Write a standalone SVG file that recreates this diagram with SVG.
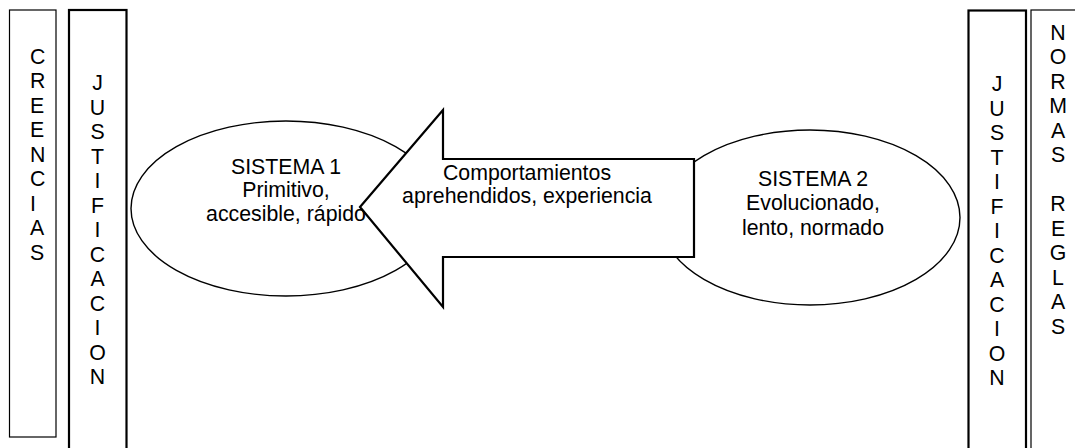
<svg xmlns="http://www.w3.org/2000/svg" width="1075" height="448" viewBox="0 0 1075 448">
<style>
text{font-family:"Liberation Sans",Arial,sans-serif;font-size:21.3px;fill:#000}
.c{text-anchor:middle}
.thin{fill:#fff;stroke:#000;stroke-width:1.2}
.thick{fill:#fff;stroke:#000;stroke-width:2.2}
.ell{fill:#fff;stroke:#000;stroke-width:1.4}
</style>
<rect width="1075" height="448" fill="#fff"/>
<g id="creencias">
<rect class="thin" x="9.5" y="10" width="46.5" height="427"/>
<text x="30"><tspan x="30" y="63.5">C</tspan><tspan x="30" dy="24.5">R</tspan><tspan x="30" dy="24.5">E</tspan><tspan x="30" dy="24.5">E</tspan><tspan x="30" dy="24.5">N</tspan><tspan x="30" dy="24.5">C</tspan><tspan x="30" dy="24.5">I</tspan><tspan x="30" dy="24.5">A</tspan><tspan x="30" dy="24.5">S</tspan></text>
</g>
<g id="justificacion-izq">
<rect class="thick" x="69" y="10" width="57.5" height="450"/>
<text class="c"><tspan x="97.5" y="90">J</tspan><tspan x="97.5" dy="24.5">U</tspan><tspan x="97.5" dy="24.5">S</tspan><tspan x="97.5" dy="24.5">T</tspan><tspan x="97.5" dy="24.5">I</tspan><tspan x="97.5" dy="24.5">F</tspan><tspan x="97.5" dy="24.5">I</tspan><tspan x="97.5" dy="24.5">C</tspan><tspan x="97.5" dy="24.5">A</tspan><tspan x="97.5" dy="24.5">C</tspan><tspan x="97.5" dy="24.5">I</tspan><tspan x="97.5" dy="24.5">O</tspan><tspan x="97.5" dy="24.5">N</tspan></text>
</g>
<g id="justificacion-der">
<rect class="thick" x="968.5" y="10.5" width="57.5" height="450"/>
<text class="c"><tspan x="997" y="91">J</tspan><tspan x="997" dy="24.5">U</tspan><tspan x="997" dy="24.5">S</tspan><tspan x="997" dy="24.5">T</tspan><tspan x="997" dy="24.5">I</tspan><tspan x="997" dy="24.5">F</tspan><tspan x="997" dy="24.5">I</tspan><tspan x="997" dy="24.5">C</tspan><tspan x="997" dy="24.5">A</tspan><tspan x="997" dy="24.5">C</tspan><tspan x="997" dy="24.5">I</tspan><tspan x="997" dy="24.5">O</tspan><tspan x="997" dy="24.5">N</tspan></text>
</g>
<g id="normas-reglas">
<rect class="thin" x="1031" y="10" width="60" height="450"/>
<text class="c"><tspan x="1058" y="39.5">N</tspan><tspan x="1058" dy="24.5">O</tspan><tspan x="1058" dy="24.5">R</tspan><tspan x="1058" dy="24.5">M</tspan><tspan x="1058" dy="24.5">A</tspan><tspan x="1058" dy="24.5">S</tspan><tspan x="1058" dy="49">R</tspan><tspan x="1058" dy="24.5">E</tspan><tspan x="1058" dy="24.5">G</tspan><tspan x="1058" dy="24.5">L</tspan><tspan x="1058" dy="24.5">A</tspan><tspan x="1058" dy="24.5">S</tspan></text>
</g>
<g id="sistema1">
<ellipse class="ell" cx="286" cy="208.5" rx="155" ry="87.5"/>
</g>
<g id="sistema2">
<ellipse class="ell" cx="810" cy="217.5" rx="150" ry="87.5"/>
</g>
<g id="connectors">
<path id="flecha" class="thick" d="M360,207 L443,110 L443,159 L694,159 L694,257 L443,257 L443,307 Z"/>
</g>
<g id="labels">
<text class="c" x="286" y="173.5">SISTEMA 1</text>
<text class="c" x="286" y="197">Primitivo,</text>
<text class="c" x="286" y="220.5">accesible, rápido</text>
<text class="c" x="527" y="179.5">Comportamientos</text>
<text class="c" x="527" y="203">aprehendidos, experiencia</text>
<text class="c" x="813" y="185.7">SISTEMA 2</text>
<text class="c" x="813" y="210">Evolucionado,</text>
<text class="c" x="813" y="234.5">lento, normado</text>
</g>
</svg>
